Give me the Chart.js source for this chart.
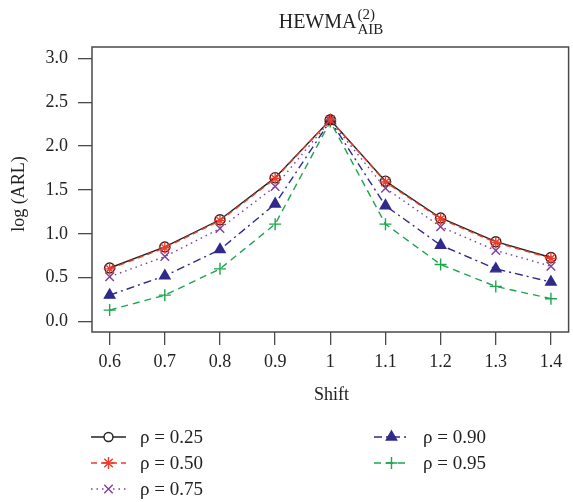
<!DOCTYPE html>
<html lang="en">
<head>
  <meta charset="UTF-8">
  <script src="https://cdn.jsdelivr.net/npm/chart.js@4"></script>
  <title>HEWMA AIB</title>
  <style>
    html, body { margin: 0; padding: 0; background: #fff; overflow: hidden; }
    .container { width: 576px; height: 502px; }
  </style>
</head>
<body>
  <div class="container">
    <canvas id="arlChart"></canvas>
  </div>

  <script>
    const shifts = [0.6, 0.7, 0.8, 0.9, 1.0, 1.1, 1.2, 1.3, 1.4];
    const yTicks = [0.0, 0.5, 1.0, 1.5, 2.0, 2.5, 3.0];

    const rho025 = [0.61, 0.85, 1.16, 1.64, 2.30, 1.60, 1.18, 0.91, 0.73];
    const rho050 = [0.60, 0.84, 1.15, 1.63, 2.30, 1.59, 1.17, 0.90, 0.72];
    const rho075 = [0.51, 0.74, 1.06, 1.54, 2.29, 1.52, 1.08, 0.81, 0.63];
    const rho090 = [0.30, 0.52, 0.82, 1.34, 2.29, 1.32, 0.87, 0.60, 0.45];
    const rho095 = [0.13, 0.30, 0.60, 1.11, 2.28, 1.11, 0.65, 0.40, 0.26];

    const serif = '"Liberation Serif", "DejaVu Serif", serif';
    const axisColor = '#4a4a4a';

    function pts(values) {
      return values.map((v, i) => ({ x: shifts[i], y: v }));
    }

    function series(label, values, color, style, dash, radius, fill, order) {
      return {
        label: label,
        data: pts(values),
        borderColor: color,
        backgroundColor: fill,
        pointBorderColor: color,
        pointBackgroundColor: fill,
        pointStyle: style,
        pointRadius: radius,
        pointBorderWidth: 1.4,
        borderWidth: 1.4,
        borderDash: dash,
        tension: 0,
        order: order
      };
    }

    const datasets = [
      series('ρ = 0.25', rho025, '#222222', 'circle', [], 5, 'rgba(0,0,0,0)', 2),
      series('ρ = 0.50', rho050, '#ee3b2b', 'star', [6, 4], 6, '#ee3b2b', 1),
      series('ρ = 0.75', rho075, '#7b3f9e', 'crossRot', [1.5, 4], 6, '#7b3f9e', 3),
      series('ρ = 0.90', rho090, '#2f2a8c', 'triangle', [8, 4, 2, 4], 6, '#2f2a8c', 4),
      series('ρ = 0.95', rho095, '#1ba64c', 'cross', [7, 5], 6, '#1ba64c', 5)
    ];

    // box, title, axis titles and the two-column legend
    const decorations = {
      id: 'decorations',
      afterDraw(chart) {
        const ctx = chart.ctx;
        const a = chart.chartArea;
        ctx.save();
        ctx.strokeStyle = axisColor;
        ctx.lineWidth = 1.5;
        ctx.strokeRect(a.left, a.top, a.right - a.left, a.bottom - a.top);

        // title HEWMA^(2)_AIB
        ctx.fillStyle = '#222';
        ctx.textBaseline = 'alphabetic';
        ctx.font = '20px ' + serif;
        const main = 'HEWMA';
        const wMain = ctx.measureText(main).width;
        ctx.font = '15px ' + serif;
        const wSub = Math.max(ctx.measureText('AIB').width, ctx.measureText('(2)').width);
        const x0 = 331 - (wMain + wSub + 1) / 2;
        ctx.font = '20px ' + serif;
        ctx.textAlign = 'left';
        ctx.fillText(main, x0, 28);
        ctx.font = '15px ' + serif;
        ctx.fillText('(2)', x0 + wMain + 1, 19);
        ctx.fillText('AIB', x0 + wMain + 1, 34);

        // axis titles
        ctx.font = '18px ' + serif;
        ctx.textAlign = 'center';
        ctx.textBaseline = 'middle';
        ctx.fillText('Shift', (a.left + 573) / 2 - 1, 395);
        ctx.save();
        ctx.translate(19, 194);
        ctx.rotate(-Math.PI / 2);
        ctx.fillText('log (ARL)', 0, 0);
        ctx.restore();

        // legend
        const rows = [437, 463, 489];
        const slots = [
          [91, rows[0]], [91, rows[1]], [91, rows[2]],
          [374, rows[0]], [374, rows[1]]
        ];
        chart.data.datasets.forEach((ds, i) => {
          const [lx, ly] = slots[i];
          ctx.strokeStyle = ds.borderColor;
          ctx.fillStyle = ds.pointBackgroundColor;
          ctx.lineWidth = 1.4;
          ctx.setLineDash(ds.borderDash);
          ctx.beginPath();
          ctx.moveTo(lx, ly);
          ctx.lineTo(lx + 35, ly);
          ctx.stroke();
          ctx.setLineDash([]);
          if (ds.pointStyle === 'circle') {
            ctx.fillStyle = '#fff';
            ctx.beginPath();
            ctx.arc(lx + 17.5, ly, 4.5, 0, Math.PI * 2);
            ctx.fill();
            ctx.stroke();
          } else {
            Chart.helpers.drawPoint(ctx, {
              pointStyle: ds.pointStyle,
              radius: 6,
              rotation: 0,
              borderWidth: 1.4
            }, lx + 17.5, ly);
          }
          ctx.fillStyle = '#222';
          ctx.font = '19px ' + serif;
          ctx.textAlign = 'left';
          ctx.textBaseline = 'middle';
          ctx.fillText(ds.label, lx + 49, ly + 1);
        });
        ctx.restore();
      }
    };

    const ctx = document.getElementById('arlChart').getContext('2d');
    const chart = new Chart(ctx, {
      type: 'line',
      data: { datasets: datasets },
      plugins: [decorations],
      options: {
        responsive: true,
        maintainAspectRatio: false,
        animation: false,
        layout: { padding: { top: 47, left: 0, right: 0, bottom: 0 } },
        plugins: {
          legend: { display: false },
          title: { display: false },
          tooltip: { enabled: false }
        },
        scales: {
          x: {
            type: 'linear',
            min: 0.568,
            max: 1.432,
            afterBuildTicks(scale) {
              scale.ticks = shifts.map(v => ({ value: v }));
            },
            afterFit(scale) { scale.height = 170; },
            border: { display: false },
            grid: {
              drawOnChartArea: false,
              drawTicks: true,
              tickLength: 13,
              color: axisColor,
              lineWidth: 1.3
            },
            ticks: {
              padding: 6,
              color: '#222',
              font: { family: serif, size: 18 },
              maxRotation: 0,
              callback: v => String(Math.round(v * 10) / 10)
            }
          },
          y: {
            type: 'linear',
            min: -0.12,
            max: 3.13,
            afterBuildTicks(scale) {
              scale.ticks = yTicks.map(v => ({ value: v }));
            },
            afterFit(scale) { scale.width = 92; },
            border: { display: false },
            grid: {
              drawOnChartArea: false,
              drawTicks: true,
              tickLength: 14,
              color: axisColor,
              lineWidth: 1.3
            },
            ticks: {
              padding: 10,
              color: '#222',
              font: { family: serif, size: 18 },
              callback: v => v.toFixed(1)
            }
          }
        }
      }
    });
  </script>
</body>
</html>
